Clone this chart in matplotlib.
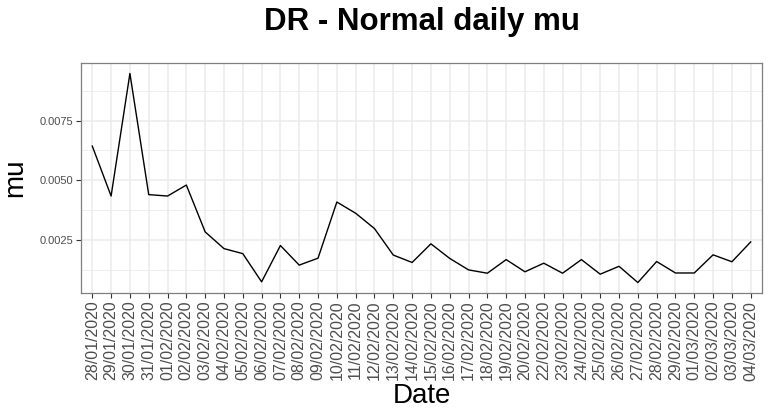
import numpy as np
import matplotlib
matplotlib.use("Agg")
import matplotlib.pyplot as plt
from matplotlib.ticker import FixedLocator, FuncFormatter

plt.rcParams['font.family'] = ['Liberation Sans', 'DejaVu Sans']

dates = ["28/01/2020", "29/01/2020", "30/01/2020", "31/01/2020",
         "01/02/2020", "02/02/2020", "03/02/2020", "04/02/2020", "05/02/2020",
         "06/02/2020", "07/02/2020", "08/02/2020", "09/02/2020", "10/02/2020",
         "11/02/2020", "12/02/2020", "13/02/2020", "14/02/2020", "15/02/2020",
         "16/02/2020", "17/02/2020", "18/02/2020", "19/02/2020", "20/02/2020",
         "22/02/2020", "23/02/2020", "24/02/2020", "25/02/2020", "26/02/2020",
         "27/02/2020", "28/02/2020", "29/02/2020", "01/03/2020", "02/03/2020",
         "03/03/2020", "04/03/2020"]

mu = [0.00643, 0.00434, 0.00947, 0.00440, 0.00434, 0.00480, 0.00284, 0.00214,
      0.00193, 0.00075, 0.00227, 0.00145, 0.00174, 0.00409, 0.00362, 0.00298,
      0.00187, 0.00156, 0.00234, 0.00173, 0.00125, 0.00111, 0.00168, 0.00117,
      0.00153, 0.00111, 0.00168, 0.00107, 0.00140, 0.00072, 0.00160, 0.00112,
      0.00112, 0.00188, 0.00159, 0.00242]

y_major = [0.0025, 0.0050, 0.0075]
y_minor = [0.00125, 0.00375, 0.00625, 0.00875]

fig = plt.figure(figsize=(7.7, 4.19), dpi=100)
ax = fig.add_axes([81 / 770, 1 - 293 / 419, (762 - 81) / 770, (293 - 63) / 419])

x = np.arange(len(dates))
ax.plot(x, mu, color="black", linewidth=1.0, zorder=3)

# ggplot-like expansion
ax.set_xlim(-0.6, len(dates) - 0.4)
rng = max(mu) - min(mu)
ax.set_ylim(min(mu) - 0.05 * rng, max(mu) + 0.05 * rng)

ax.xaxis.set_major_locator(FixedLocator(x))
ax.set_xticklabels(dates, rotation=90, fontsize=11.5, color="#4D4D4D")
ax.yaxis.set_major_locator(FixedLocator(y_major))
ax.yaxis.set_minor_locator(FixedLocator(y_minor))
ax.yaxis.set_major_formatter(FuncFormatter(lambda v, p: "%.4f" % v))
ax.tick_params(axis="y", labelsize=8, labelcolor="#4D4D4D")
ax.tick_params(which="major", length=3.5, width=0.8, color="#333333", pad=2)
ax.tick_params(which="minor", length=0)

ax.grid(which="major", color="#EBEBEB", linewidth=1.1, zorder=0)
ax.grid(which="minor", axis="y", color="#EBEBEB", linewidth=0.6, zorder=0)
ax.set_axisbelow(True)
for s in ax.spines.values():
    s.set_color("#7F7F7F")
    s.set_linewidth(0.9)

ax.set_xlabel("Date", fontsize=20, labelpad=2)
ax.set_ylabel("mu", fontsize=20, labelpad=8)
fig.text((81 + 762) / 2 / 770, 1 - 22 / 419, "DR - Normal daily mu",
         ha="center", va="center", fontsize=22.5, fontweight="bold")

fig.savefig("out.png", dpi=100)
